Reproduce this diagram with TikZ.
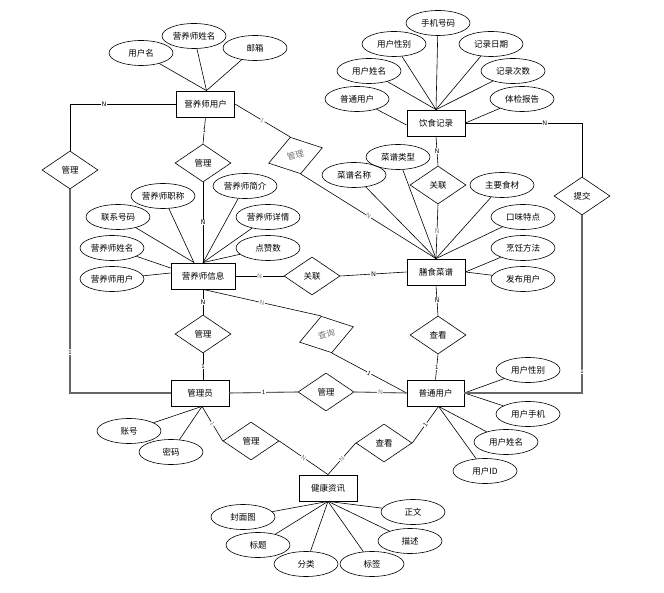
\documentclass[tikz,border=0pt]{standalone}
\usepackage{fontspec}
\newfontfamily\cjk{Noto Sans CJK SC}
\usetikzlibrary{shapes.geometric}
\begin{document}
\begin{tikzpicture}[x=1pt,y=-1pt,
 every node/.style={font=\cjk\fontsize{8.5}{10}\selectfont},
 ent/.style={draw, rectangle, minimum width=58pt, minimum height=26pt, inner sep=1pt, line width=0.8pt},
 attr/.style={draw, ellipse, minimum width=64pt, minimum height=25pt, inner sep=0pt, line width=0.6pt},
 rel/.style={draw, diamond, minimum width=56pt, minimum height=38pt, inner sep=0pt, line width=0.6pt},
 rrel/.style={rel, rotate=16, text=black!55},
 lnk/.style={line width=0.6pt},
 glnk/.style={draw=black!60, line width=1.1pt},
 lbl/.style={fill=white, inner sep=0.6pt, font=\sffamily\fontsize{6.5}{6.5}\selectfont},
 glbl/.style={lbl, text=black!50}
]
\fill[white] (0,0) rectangle (664,593);
\useasboundingbox (0,0) rectangle (664,593);

% entities
\node[ent] (eU) at (205.5,104) {营养师用户};
\node[ent] (eR) at (436,123) {饮食记录};
\node[ent, minimum width=64pt] (eI) at (203,276) {营养师信息};
\node[ent] (eM) at (436,272) {膳食菜谱};
\node[ent] (eA) at (200,393) {管理员};
\node[ent, minimum width=57pt] (eP) at (435.5,393) {普通用户};
\node[ent] (eH) at (328,488) {健康资讯};

% relations
\node[rel] (r1) at (70,170) {管理};
\node[rel] (r2) at (203,163) {管理};
\node[rrel] (r3) at (295.5,155.5) {管理};
\node[rel] (r4) at (438,185) {关联};
\node[rel] (r5) at (582,196) {提交};
\node[rel] (r6) at (312,276) {关联};
\node[rrel] (r7) at (326.5,334.5) {查询};
\node[rel] (r8) at (203,334) {管理};
\node[rel] (r9) at (438,335) {查看};
\node[rel] (r10) at (326,392) {管理};
\node[rel] (r11) at (251,441) {管理};
\node[rel] (r12) at (384,443) {查看};

% attributes of 营养师用户
\node[attr] (u1) at (141,53) {用户名};
\node[attr] (u2) at (194,36) {营养师姓名};
\node[attr] (u3) at (255,48) {邮箱};
% attributes of 饮食记录
\node[attr] (d1) at (438,23) {手机号码};
\node[attr] (d2) at (394,44) {用户性别};
\node[attr] (d3) at (491,44) {记录日期};
\node[attr] (d4) at (369,71) {用户姓名};
\node[attr] (d5) at (513,71) {记录次数};
\node[attr] (d6) at (357,99) {普通用户};
\node[attr] (d7) at (522,99) {体检报告};
% attributes of 膳食菜谱
\node[attr] (m1) at (398,157) {菜谱类型};
\node[attr] (m2) at (354,175) {菜谱名称};
\node[attr] (m3) at (502,185) {主要食材};
\node[attr] (m4) at (523,217) {口味特点};
\node[attr] (m5) at (523,248) {烹饪方法};
\node[attr] (m6) at (523,279) {发布用户};
% attributes of 营养师信息
\node[attr] (i1) at (163,196) {营养师职称};
\node[attr] (i2) at (245,186) {营养师简介};
\node[attr] (i3) at (118,217) {联系号码};
\node[attr] (i4) at (268,217) {营养师详情};
\node[attr] (i5) at (112,248) {营养师姓名};
\node[attr] (i6) at (268,248) {点赞数};
\node[attr] (i7) at (112,279) {营养师用户};
% attributes of 管理员
\node[attr] (a1) at (129,431) {账号};
\node[attr] (a2) at (171,452) {密码};
% attributes of 普通用户
\node[attr] (p1) at (528,370) {用户性别};
\node[attr] (p2) at (528,414) {用户手机};
\node[attr] (p3) at (506,442) {用户姓名};
\node[attr] (p4) at (485,471) {用户ID};
% attributes of 健康资讯
\node[attr] (h1) at (243,517) {封面图};
\node[attr] (h2) at (258,545) {标题};
\node[attr] (h3) at (306,564) {分类};
\node[attr] (h4) at (372,564) {标签};
\node[attr] (h5) at (410,541) {描述};
\node[attr] (h6) at (413,512) {正文};

% anchor points
\coordinate (eUt) at ([xshift=1pt]eU.north);
\coordinate (eIt1) at ([xshift=-9pt]eI.north);
\coordinate (eIl1) at ([yshift=8pt]eI.west);
\coordinate (eIl2) at ([yshift=3pt]eI.west);
\coordinate (eRl) at ([yshift=-2pt]eR.west);
\coordinate (eAb) at ([xshift=2pt]eA.south);
\coordinate (ePb) at ([xshift=3pt]eP.south);

% attribute connectors
\foreach \a in {u1,u2,u3} \draw[lnk] (\a) -- (eUt);
\foreach \a in {d1,d2,d3,d4,d5} \draw[lnk] (\a) -- (eR.north);
\draw[lnk] (d6) -- (eRl);
\draw[lnk] (d7) -- (eR.east);
\foreach \a in {m1,m2,m3,m4} \draw[lnk] (\a) -- (eM.north);
\foreach \a in {m5,m6} \draw[lnk] (\a) -- (eM.east);
\foreach \a in {i1,i3} \draw[lnk] (\a) -- (eIt1);
\foreach \a in {i2,i4,i6} \draw[lnk] (\a) -- (eI.north);
\draw[lnk] (i5) -- (eIl1);
\draw[lnk] (i7) -- (eIl2);
\foreach \a in {a1,a2} \draw[lnk] (\a) -- (eAb);
\foreach \a in {p1,p2} \draw[lnk] (\a) -- (eP.east);
\foreach \a in {p3,p4} \draw[lnk] (\a) -- (ePb);
\foreach \a in {h1,h2,h3,h4,h5,h6} \draw[lnk] (\a) -- (eH.south);

% relationship connectors
\draw[lnk] (eU.west) -| node[lbl, pos=0.34] {N} (r1.north);
\draw[glnk] (r1.south) |- node[lbl, pos=0.4] {1} (eA.west);
\draw[lnk] (eU.south) -- node[lbl] {1} (r2.north);
\draw[lnk] (r2.south) -- node[lbl] {N} (eI.north);
\draw[lnk] (eU.east) -- node[glbl, sloped] {1} (r3.north);
\draw[lnk] (r3.south) -- node[glbl, sloped] {N} (eM.north);
\draw[lnk] (eR.south) -- node[lbl] {N} (r4.north);
\draw[lnk] (r4.south) -- node[glbl] {N} (eM.north);
\draw[lnk] (eR.east) -| node[lbl, pos=0.34] {N} (r5.north);
\draw[glnk] (r5.south) |- node[lbl, pos=0.44] {1} (eP.east);
\draw[lnk] (eI.east) -- node[glbl] {N} (r6.west);
\draw[lnk] (r6.east) -- node[lbl] {N} (eM.west);
\draw[lnk] (eI.south) -- node[glbl, sloped] {N} (r7.north);
\draw[lnk] (r7.south) -- node[lbl, sloped] {1} (eP.west);
\draw[lnk] (eI.south) -- node[lbl] {N} (r8.north);
\draw[lnk] (r8.south) -- node[lbl] {1} (r8.south |- eA.north);
\draw[lnk] (eM.south) -- node[lbl] {N} (r9.north);
\draw[lnk] (r9.south) -- node[lbl] {1} (eP.north);
\draw[glnk] (eA.east) -- node[lbl] {1} (r10.west);
\draw[glnk] (r10.east) -- node[glbl] {N} (eP.west);
\draw[lnk] (eAb) -- node[glbl, sloped] {1} (r11.west);
\draw[lnk] (r11.east) -- node[glbl, sloped] {N} (eH.north);
\draw[lnk] (ePb) -- node[lbl, sloped] {1} (r12.east);
\draw[lnk] (r12.west) -- node[glbl, sloped] {N} (eH.north);
\end{tikzpicture}
\end{document}
